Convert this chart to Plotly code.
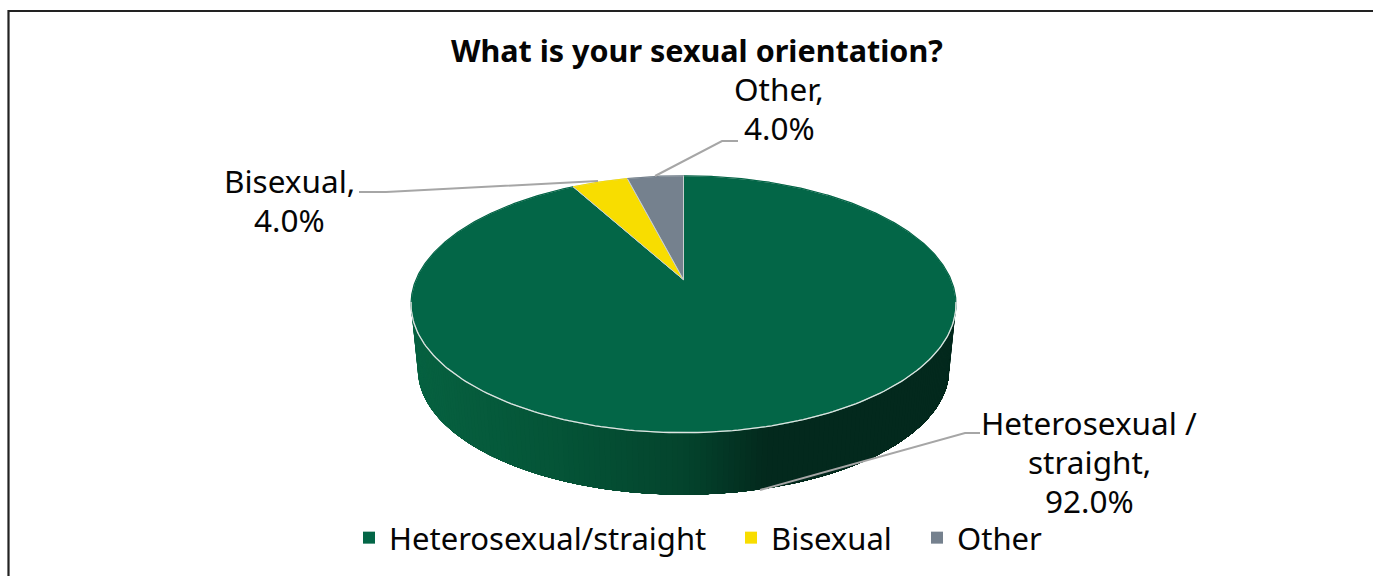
import numpy as np
import plotly.graph_objects as go

# ---- data ----
categories = ["Heterosexual/straight", "Bisexual", "Other"]
values = [92.0, 4.0, 4.0]
colors = ["#036647", "#f8dd00", "#75818e"]
title_text = "What is your sexual orientation?"
label_lines = [["Heterosexual /", "straight,", "92.0%"], ["Bisexual,", "4.0%"], ["Other,", "4.0%"]]

# ---- 3D pie projection (pixel frame, y down) ----
CX, CY = 683.5, 279.7
A, B, K = 267.5, 123.8, 0.1907
DEPTH, SHRINK = 65.8, 0.975
FONT = "Noto Sans"


def rim(theta, scale=1.0, dy=0.0):
    d = 1 + K * np.cos(theta)
    return CX + scale * A * np.sin(theta) / d, CY + dy - scale * B * np.cos(theta) / d


def side_color(x):
    stops_x = [411, 560, 683, 765, 956]
    r = [7, 5, 4, 3, 3]
    g = [98, 84, 68, 41, 41]
    b = [65, 55, 45, 29, 29]
    return "rgb(%d,%d,%d)" % (np.interp(x, stops_x, r), np.interp(x, stops_x, g), np.interp(x, stops_x, b))


fig = go.Figure()

# side wall: painted left to right, each layer covering everything to its right (no seams)
T_LEFT, T_RIGHT = 260, 100
for deg in np.arange(T_LEFT, T_RIGHT, -1.0):
    ts = np.radians(np.linspace(deg, T_RIGHT, int(deg - T_RIGHT) + 2))
    xt, yt = rim(ts)
    xb, yb = rim(ts[::-1], SHRINK, DEPTH)
    col = side_color((xt[0] + xb[-1]) / 2)
    fig.add_trace(go.Scatter(x=list(xt) + list(xb), y=list(yt) + list(yb), mode="lines", fill="toself",
                             fillcolor=col, line=dict(width=0), hoverinfo="skip", showlegend=False))

# top slices, clockwise from 12 o'clock
total = sum(values)
starts = [0.0]
for v in values[:-1]:
    starts.append(starts[-1] + v / total * 2 * np.pi)
for cat, v, s, c in zip(categories, values, starts, colors):
    ts = np.linspace(s, s + v / total * 2 * np.pi, max(3, int(v * 8)))
    xs, ys = rim(ts)
    fig.add_trace(go.Scatter(x=[CX] + list(xs) + [CX], y=[CY] + list(ys) + [CY], mode="lines", fill="toself",
                             fillcolor=c, line=dict(color="#c9d0cf", width=1), hoverinfo="skip", showlegend=False))
    # cover the outer stroke on the slice's rim with its own colour
    fig.add_trace(go.Scatter(x=xs, y=ys, mode="lines", line=dict(color=c, width=1.2),
                             hoverinfo="skip", showlegend=False))

# light rim along the front
ts = np.radians(np.linspace(T_RIGHT, T_LEFT, 160))
xs, ys = rim(ts)
fig.add_trace(go.Scatter(x=xs, y=ys, mode="lines", line=dict(color="#dfe5e2", width=1.3),
                         hoverinfo="skip", showlegend=False))

# legend entries, one positioned legend per category
legend_names = ["legend", "legend2", "legend3"]
legend_left = [349, 731, 917]
for cat, c, ln in zip(categories, colors, legend_names):
    fig.add_trace(go.Scatter(x=[None], y=[None], mode="markers", name=cat, legend=ln,
                             marker=dict(symbol="square", size=12, color=c)))

# leader lines
leaders = [
    [(980, 433), (965, 433), (760, 490)],
    [(359, 192), (386, 192), (598, 181)],
    [(738, 141), (722, 141), (655, 176)],
]
shapes = []
for pts in leaders:
    path = "M " + " L ".join(f"{x} {y}" for x, y in pts)
    shapes.append(dict(type="path", path=path, line=dict(color="#a6a6a6", width=2), xref="x", yref="y"))
# frame
shapes.append(dict(type="path", path="M 8.5 576 L 8.5 11 L 1373 11", line=dict(color="#222222", width=2.2), xref="x", yref="y"))

# data labels, line by line
label_first_line = [(1089, 422), (289, 180), (779, 88)]
LINE_STEP = 39
annotations = []
for (x, y0), lines in zip(label_first_line, label_lines):
    for i, line in enumerate(lines):
        annotations.append(dict(x=x, y=y0 + i * LINE_STEP, text=line, showarrow=False, xref="x", yref="y",
                                xanchor="center", yanchor="middle", align="center",
                                font=dict(family=FONT, size=31.5, color="#050505")))
annotations.append(dict(x=697, y=50, text=f"<b>{title_text}</b>", showarrow=False, xref="x", yref="y",
                        xanchor="center", yanchor="middle", font=dict(family=FONT, size=30.5, color="#050505")))

legend_common = dict(orientation="h", xref="paper", yref="paper", xanchor="left", yanchor="middle",
                     y=1 - 538 / 576, bgcolor="rgba(0,0,0,0)",
                     font=dict(family=FONT, size=31, color="#050505"))
layout_legends = {ln: dict(legend_common, x=lx / 1373) for ln, lx in zip(legend_names, legend_left)}

fig.update_layout(
    width=1373, height=576, margin=dict(l=0, r=0, t=0, b=0),
    paper_bgcolor="white", plot_bgcolor="white",
    xaxis=dict(range=[0, 1373], visible=False, fixedrange=True),
    yaxis=dict(range=[576, 0], visible=False, fixedrange=True),
    shapes=shapes, annotations=annotations,
    **layout_legends,
)
fig.write_html("out.html", config={"displayModeBar": False},
               post_script="document.body.style.margin='0';document.body.style.overflow='hidden';")
